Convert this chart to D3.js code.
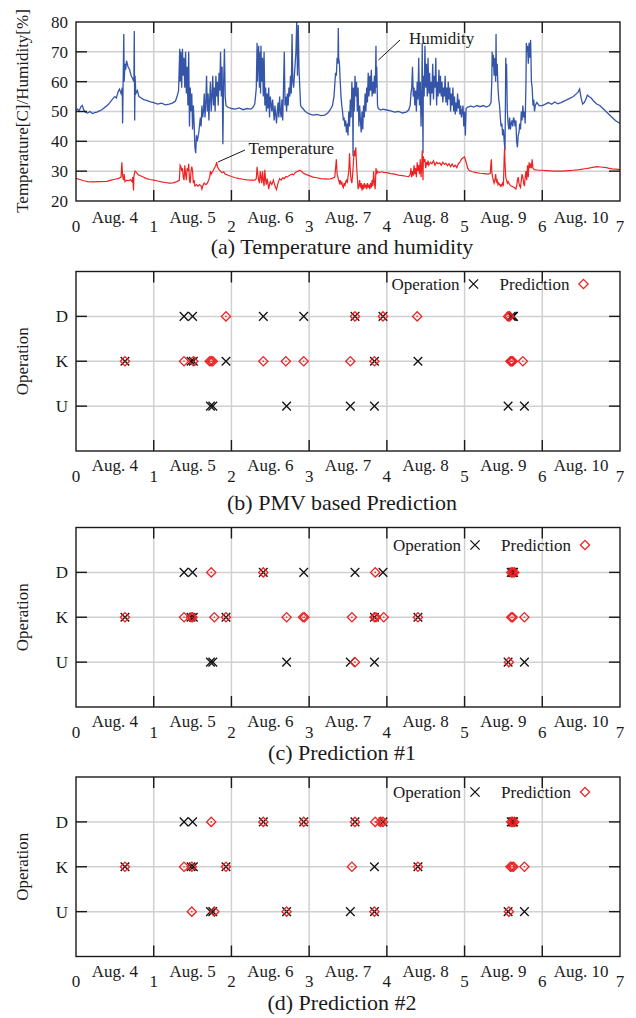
<!DOCTYPE html>
<html><head><meta charset="utf-8">
<script src="https://cdn.jsdelivr.net/npm/d3@7"></script>
<style>body{margin:0;background:#fff}text{font-family:"Liberation Serif","Times New Roman",serif;fill:#1a1a1a}</style>
</head><body><svg id="c" width="636" height="1018"></svg>
<script>
const humidity = [[0.00,50.5],[0.02,50.8],[0.04,50.2],[0.06,51.5],[0.08,52],[0.10,50.5],[0.12,49.8],[0.15,49.5],[0.18,50],[0.21,49.3],[0.24,49.6],[0.27,49.8],[0.30,50.2],[0.33,50.5],[0.36,51.2],[0.39,51.8],[0.42,52.5],[0.45,53.5],[0.48,54.5],[0.50,55],[0.52,54.5],[0.54,56.5],[0.56,57.5],[0.58,56],[0.595,58],[0.60,46],[0.605,57],[0.615,76],[0.62,60],[0.63,66],[0.64,64],[0.65,67],[0.67,65],[0.69,64],[0.71,62],[0.73,61],[0.745,60],[0.75,77],[0.755,47],[0.76,62],[0.77,56],[0.79,57],[0.81,55],[0.84,54.5],[0.87,54],[0.90,53.8],[0.93,53.5],[0.96,53.2],[1.00,53],[1.05,52.5],[1.10,52.8],[1.15,52.2],[1.20,52.5],[1.24,52.8],[1.28,53.5],[1.30,55],[1.32,57],[1.335,71],[1.34,60],[1.35,70],[1.36,58],[1.37,71],[1.38,62],[1.39,68],[1.40,58],[1.41,70],[1.42,56],[1.43,65],[1.44,52],[1.45,70],[1.46,45],[1.47,58],[1.48,50],[1.49,56],[1.50,44],[1.51,52],[1.52,46],[1.53,38],[1.54,36],[1.55,42],[1.56,40],[1.58,43],[1.60,48],[1.61,45],[1.62,52],[1.63,48],[1.64,50],[1.65,56],[1.66,48],[1.67,53],[1.68,62],[1.69,50],[1.70,56],[1.71,47],[1.72,54],[1.73,60],[1.74,50],[1.75,55],[1.76,62],[1.77,52],[1.78,58],[1.79,50],[1.80,62],[1.81,55],[1.82,60],[1.83,52],[1.84,63],[1.85,57],[1.86,70],[1.87,55],[1.88,65],[1.89,39],[1.90,60],[1.91,71],[1.92,55],[1.93,52],[1.95,51.5],[2.00,51],[2.05,50.8],[2.10,51.2],[2.15,50.6],[2.20,51],[2.25,50.8],[2.28,51.5],[2.30,52.5],[2.31,55],[2.32,58],[2.33,73],[2.335,60],[2.34,65],[2.35,72],[2.36,58],[2.37,70],[2.375,56],[2.38,72],[2.39,60],[2.40,68],[2.41,55],[2.42,70],[2.43,52],[2.44,58],[2.45,50],[2.46,56],[2.47,51],[2.48,58],[2.49,48],[2.50,55],[2.52,50],[2.53,54],[2.55,47],[2.56,52],[2.58,46],[2.59,50],[2.60,53],[2.61,48],[2.62,55],[2.63,50],[2.64,48],[2.65,54],[2.66,47],[2.67,58],[2.68,70],[2.69,52],[2.70,55],[2.71,50],[2.72,56],[2.73,52],[2.74,58],[2.75,55],[2.76,62],[2.77,56],[2.78,76],[2.79,60],[2.80,58],[2.81,62],[2.82,66],[2.83,70],[2.84,80],[2.85,62],[2.86,79],[2.87,64],[2.88,58],[2.89,52],[2.90,51.5],[2.92,51],[2.95,50],[2.98,49.5],[3.00,49.2],[3.05,48.8],[3.10,49],[3.15,48.6],[3.20,48.8],[3.24,49.5],[3.27,50.5],[3.30,52],[3.32,55],[3.34,63],[3.35,62],[3.36,68],[3.37,66],[3.375,78],[3.38,68],[3.39,66],[3.40,60],[3.41,55],[3.42,52],[3.43,50],[3.44,47],[3.45,48],[3.46,45],[3.47,47],[3.48,43],[3.49,46],[3.50,42],[3.51,50],[3.52,45],[3.53,54],[3.54,48],[3.55,60],[3.56,52],[3.565,35],[3.57,58],[3.58,50],[3.59,62],[3.60,55],[3.61,60],[3.62,50],[3.63,58],[3.64,45],[3.65,52],[3.66,47],[3.67,43],[3.68,50],[3.69,44],[3.70,52],[3.71,48],[3.72,56],[3.73,50],[3.74,58],[3.75,53],[3.76,63],[3.77,55],[3.78,62],[3.79,57],[3.80,64],[3.81,55],[3.82,60],[3.83,56],[3.84,62],[3.85,56],[3.86,72],[3.865,58],[3.87,65],[3.88,52],[3.89,51],[3.92,50.5],[3.95,50.8],[4.00,50.5],[4.05,50.2],[4.10,49.8],[4.15,50],[4.20,49.5],[4.25,49.8],[4.28,50.5],[4.30,52],[4.31,56],[4.32,58],[4.33,65],[4.34,55],[4.35,58],[4.36,52],[4.37,57],[4.38,50],[4.39,60],[4.40,54],[4.41,68],[4.42,52],[4.43,60],[4.44,45],[4.45,58],[4.455,73],[4.46,50],[4.465,36],[4.47,62],[4.48,55],[4.49,72],[4.50,58],[4.51,66],[4.52,55],[4.53,68],[4.54,56],[4.55,63],[4.56,52],[4.57,60],[4.58,56],[4.59,66],[4.60,54],[4.61,62],[4.62,58],[4.63,68],[4.64,52],[4.65,60],[4.66,55],[4.67,64],[4.68,56],[4.69,62],[4.70,55],[4.71,60],[4.72,53],[4.73,58],[4.74,55],[4.75,62],[4.76,53],[4.77,58],[4.78,52],[4.79,60],[4.80,54],[4.81,58],[4.82,50],[4.83,56],[4.84,52],[4.85,58],[4.86,50],[4.87,55],[4.88,49],[4.89,53],[4.90,50],[4.91,56],[4.92,51],[4.93,54],[4.94,49],[4.95,52],[4.96,48],[4.97,50],[4.98,52],[4.99,45],[5.00,50],[5.01,42],[5.02,51],[5.04,51.5],[5.08,51.8],[5.12,51.5],[5.16,52],[5.20,51.6],[5.24,52],[5.28,51.5],[5.32,52],[5.34,53],[5.35,60],[5.355,70],[5.36,65],[5.37,69],[5.38,62],[5.39,68],[5.40,60],[5.405,76],[5.41,62],[5.42,66],[5.43,58],[5.44,54],[5.45,52],[5.46,48],[5.47,45],[5.48,46],[5.49,42],[5.50,44],[5.51,40],[5.52,37],[5.525,50],[5.53,68],[5.535,58],[5.54,66],[5.55,50],[5.56,46],[5.57,44],[5.58,48],[5.59,44],[5.60,46],[5.61,47],[5.62,45],[5.63,48],[5.64,47],[5.65,45],[5.66,47],[5.67,40],[5.68,38],[5.69,42],[5.70,43],[5.71,46],[5.72,44],[5.73,50],[5.74,47],[5.75,52],[5.76,48],[5.77,50],[5.78,46],[5.79,60],[5.795,73],[5.80,70],[5.81,72],[5.82,66],[5.83,73],[5.84,68],[5.85,74],[5.86,60],[5.87,58],[5.88,52],[5.89,54],[5.90,50],[5.91,52],[5.93,53],[5.96,52],[6.00,52],[6.04,52.5],[6.08,53],[6.12,52.4],[6.16,53.2],[6.20,52.6],[6.24,53],[6.28,53.5],[6.32,54],[6.36,54.5],[6.40,55],[6.44,56],[6.46,56.5],[6.48,57.5],[6.50,54.5],[6.52,52.5],[6.54,53],[6.56,54],[6.58,55.5],[6.60,55],[6.63,54.5],[6.66,53.5],[6.70,52.5],[6.74,52],[6.78,51],[6.82,50],[6.86,49],[6.90,48],[6.94,47],[6.97,46.5],[7.00,46]];

const temperature = [[0.00,27.6],[0.05,27.2],[0.10,26.8],[0.15,26.5],[0.20,26.4],[0.30,26.5],[0.40,26.6],[0.45,27],[0.50,27.3],[0.55,27.6],[0.58,28],[0.59,33],[0.60,28.5],[0.61,27],[0.62,29],[0.63,26.5],[0.65,27],[0.68,26.8],[0.70,27.2],[0.72,26.5],[0.73,28],[0.74,23.5],[0.745,28],[0.75,29],[0.76,30],[0.78,29.5],[0.80,28.8],[0.85,28.2],[0.90,27.6],[0.95,27.2],[1.00,27],[1.05,26.7],[1.10,26.4],[1.15,26.2],[1.20,26],[1.25,26.1],[1.30,26.5],[1.33,27],[1.34,32],[1.35,31.5],[1.36,30],[1.37,31],[1.38,28],[1.39,27],[1.40,32],[1.41,29],[1.42,27],[1.43,31],[1.44,30],[1.45,32.5],[1.46,27],[1.47,26],[1.48,30],[1.49,31.5],[1.50,30],[1.51,26],[1.52,27],[1.53,25],[1.55,25.5],[1.57,25],[1.59,25.5],[1.61,25],[1.62,24],[1.63,25],[1.65,26],[1.67,25.5],[1.69,26],[1.70,26.5],[1.72,28],[1.73,30],[1.74,29],[1.76,30],[1.78,31],[1.80,32],[1.81,33],[1.82,31.5],[1.84,30.5],[1.86,30],[1.88,29.5],[1.90,29.8],[1.92,29],[1.95,28.7],[2.00,28.2],[2.05,27.8],[2.10,27.5],[2.15,27.3],[2.20,27.1],[2.25,27],[2.30,27],[2.32,27.5],[2.33,31.5],[2.34,29],[2.35,27],[2.36,26],[2.37,30],[2.38,28],[2.39,26],[2.40,30],[2.41,27],[2.42,25],[2.43,30.5],[2.44,27],[2.45,25.5],[2.46,27.5],[2.47,26],[2.48,24],[2.49,25.5],[2.50,26.5],[2.52,25.5],[2.54,27],[2.56,25],[2.58,23.8],[2.60,26],[2.62,27.5],[2.64,27],[2.66,27.8],[2.68,27.5],[2.70,28.2],[2.72,28],[2.74,28.5],[2.76,28.8],[2.78,29],[2.80,28.8],[2.82,29.5],[2.84,29.8],[2.86,30],[2.88,30.3],[2.90,30],[2.92,29.5],[2.95,29],[3.00,28.5],[3.05,28],[3.10,27.8],[3.15,27.5],[3.20,27.4],[3.25,27.3],[3.30,27.6],[3.33,28],[3.34,31],[3.35,34],[3.36,29],[3.37,28],[3.38,27],[3.39,26],[3.40,27],[3.41,25.5],[3.42,26.5],[3.43,25],[3.44,24.5],[3.45,26],[3.46,25],[3.47,26.5],[3.48,27],[3.49,26],[3.50,28],[3.51,30],[3.52,36],[3.53,30],[3.54,27],[3.55,26],[3.56,29],[3.57,33],[3.58,37],[3.59,35],[3.60,38],[3.61,32],[3.62,28],[3.63,24],[3.64,25],[3.65,27],[3.66,24.5],[3.67,26],[3.68,23.5],[3.69,25.5],[3.70,24],[3.71,26],[3.72,24.5],[3.73,25.5],[3.74,24],[3.75,26],[3.76,24.5],[3.77,25.5],[3.78,24],[3.79,26],[3.80,24.5],[3.81,27],[3.82,25],[3.83,30],[3.84,26],[3.85,24],[3.86,31],[3.87,29],[3.88,30],[3.90,29.5],[3.93,29.8],[3.96,29.6],[4.00,29.5],[4.05,29.2],[4.10,29],[4.15,28.7],[4.20,28.5],[4.25,28.3],[4.28,28.2],[4.30,28.8],[4.31,31],[4.32,28],[4.33,30],[4.34,28.5],[4.35,32],[4.36,29],[4.37,31],[4.38,28],[4.39,33],[4.40,30],[4.41,32],[4.42,29],[4.43,34],[4.44,28],[4.45,33],[4.455,37],[4.46,32],[4.465,27],[4.47,35],[4.48,33],[4.49,34],[4.50,31],[4.51,33],[4.52,32],[4.53,33.5],[4.54,32],[4.56,33],[4.58,32.5],[4.60,33.5],[4.62,32],[4.64,33],[4.66,32.5],[4.68,32.8],[4.70,32],[4.72,33],[4.74,32.3],[4.76,32.6],[4.78,31.8],[4.80,32.5],[4.82,31.5],[4.84,32.4],[4.86,31.5],[4.88,32],[4.90,31.2],[4.92,32.5],[4.94,33],[4.96,34],[4.98,34.5],[5.00,34.8],[5.02,33],[5.04,31],[5.06,30.2],[5.10,29.8],[5.15,29.5],[5.20,29.3],[5.25,29.2],[5.30,29],[5.33,29.2],[5.34,33],[5.345,34],[5.35,30],[5.36,28],[5.37,27],[5.38,26],[5.39,27],[5.40,29],[5.41,26.5],[5.42,27],[5.43,25.5],[5.44,26],[5.45,25.5],[5.46,25],[5.47,25.5],[5.48,25],[5.49,26],[5.50,25.5],[5.505,30],[5.51,35],[5.515,38],[5.52,33],[5.53,28],[5.54,27],[5.55,26],[5.56,26.5],[5.58,25.5],[5.60,25],[5.62,24.8],[5.64,24.5],[5.66,24],[5.67,25],[5.68,27],[5.69,28],[5.70,26],[5.71,25],[5.72,24.5],[5.73,27],[5.74,29],[5.75,28],[5.76,26],[5.77,25],[5.78,28],[5.79,30],[5.80,27],[5.81,32],[5.82,28],[5.83,33],[5.84,31],[5.85,32.5],[5.86,31],[5.87,34],[5.88,31],[5.90,30.5],[5.93,30.4],[5.96,30.3],[6.00,30.3],[6.05,30.2],[6.10,30.1],[6.15,30],[6.20,30],[6.25,30],[6.30,30.1],[6.35,30.2],[6.40,30.3],[6.45,30.4],[6.50,30.6],[6.55,30.8],[6.60,31],[6.65,31.3],[6.70,31.5],[6.75,31.4],[6.80,31.3],[6.85,31],[6.90,30.8],[6.95,30.7],[7.00,30.5]];

const dayTicks = [0,1,2,3,4,5,6,7];
const dayLabels = ["Aug. 4","Aug. 5","Aug. 6","Aug. 7","Aug. 8","Aug. 9","Aug. 10"];
const valueTicks = [20,30,40,50,60,70,80];
const opLevels = ["U","K","D"];

const operation = [[1.39,"D"],[1.50,"D"],[2.41,"D"],[2.93,"D"],[3.59,"D"],[3.95,"D"],[5.60,"D"],[5.62,"D"],[5.63,"D"],
  [0.63,"K"],[1.48,"K"],[1.51,"K"],[1.93,"K"],[3.84,"K"],[4.40,"K"],
  [1.73,"U"],[1.76,"U"],[2.71,"U"],[3.53,"U"],[3.84,"U"],[5.56,"U"],[5.77,"U"]];

const predictionPMV = [[1.93,"D"],[3.59,"D"],[3.95,"D"],[4.39,"D"],[5.56,"D"],[5.58,"D"],
  [0.63,"K"],[1.39,"K"],[1.51,"K"],[1.72,"K"],[1.74,"K"],[1.76,"K"],[2.41,"K"],[2.70,"K"],[2.93,"K"],[3.53,"K"],[3.84,"K"],[5.59,"K"],[5.60,"K"],[5.61,"K"],[5.62,"K"],[5.75,"K"]];

const prediction1 = [[1.74,"D"],[2.41,"D"],[3.85,"D"],[5.60,"D"],[5.62,"D"],[5.64,"D"],
  [0.63,"K"],[1.39,"K"],[1.48,"K"],[1.50,"K"],[1.78,"K"],[1.93,"K"],[2.71,"K"],[2.92,"K"],[2.94,"K"],[3.55,"K"],[3.84,"K"],[3.86,"K"],[3.96,"K"],[4.40,"K"],[5.60,"K"],[5.62,"K"],[5.77,"K"],
  [3.59,"U"],[5.57,"U"]];

const prediction2 = [[1.74,"D"],[2.41,"D"],[2.93,"D"],[3.59,"D"],[3.85,"D"],[3.92,"D"],[3.95,"D"],[5.60,"D"],[5.62,"D"],[5.64,"D"],
  [0.63,"K"],[1.39,"K"],[1.49,"K"],[1.93,"K"],[3.55,"K"],[4.40,"K"],[5.59,"K"],[5.61,"K"],[5.63,"K"],[5.77,"K"],
  [1.49,"U"],[1.78,"U"],[2.71,"U"],[3.84,"U"],[5.57,"U"]];

const titles = ["(a) Temperature and humidity","(b) PMV based Prediction","(c) Prediction #1","(d) Prediction #2"];

const svg = d3.select("#c");
const L = 76, R = 620;
const x = d3.scaleLinear().domain([0,7]).range([L,R]);
const GRID = "#d0d0d0", INK = "#1a1a1a", RED = "#ee2222", BLUE = "#3556a8";
const TL = 11;

function frame(top, bottom, yScale, yTickVals, yTickText, augDy, numDy, titleY) {
  const g = svg.append("g");
  // grids
  g.selectAll(".gx").data(dayTicks.slice(1,-1)).join("line")
    .attr("x1",d=>x(d)).attr("x2",d=>x(d)).attr("y1",top).attr("y2",bottom)
    .attr("stroke",GRID).attr("stroke-width",1.5);
  g.selectAll(".gy").data(yTickVals.filter(v=>yScale(v)>top+1 && yScale(v)<bottom-1)).join("line")
    .attr("x1",L).attr("x2",R).attr("y1",d=>yScale(d)).attr("y2",d=>yScale(d))
    .attr("stroke",GRID).attr("stroke-width",1.5);
  return g;
}
function frameTop(g, top, bottom, yScale, yTickVals, yTickText, augDy, numDy, titleY) {
  g.append("rect").attr("x",L).attr("y",top).attr("width",R-L).attr("height",bottom-top)
    .attr("fill","none").attr("stroke",INK).attr("stroke-width",1.4);
  const inner = dayTicks.slice(1,-1);
  g.selectAll(null).data(inner).join("line").attr("x1",d=>x(d)).attr("x2",d=>x(d))
    .attr("y1",bottom).attr("y2",bottom-TL).attr("stroke",INK).attr("stroke-width",1.4);
  g.selectAll(null).data(inner).join("line").attr("x1",d=>x(d)).attr("x2",d=>x(d))
    .attr("y1",top).attr("y2",top+TL).attr("stroke",INK).attr("stroke-width",1.4);
  const yin = yTickVals.filter(v=>yScale(v)>top+1 && yScale(v)<bottom-1);
  g.selectAll(null).data(yin).join("line").attr("x1",L).attr("x2",L+TL)
    .attr("y1",d=>yScale(d)).attr("y2",d=>yScale(d)).attr("stroke",INK).attr("stroke-width",1.4);
  g.selectAll(null).data(yin).join("line").attr("x1",R).attr("x2",R-TL)
    .attr("y1",d=>yScale(d)).attr("y2",d=>yScale(d)).attr("stroke",INK).attr("stroke-width",1.4);
  g.selectAll(null).data(yTickVals).join("text").attr("x",L-8).attr("y",d=>yScale(d)).attr("dy","0.35em")
    .attr("text-anchor","end").attr("font-size",17).text((d,i)=>yTickText[i]);
  g.selectAll(null).data(dayTicks).join("text").attr("x",d=>x(d)).attr("y",bottom+numDy)
    .attr("text-anchor","middle").attr("font-size",17).text(d=>d);
  g.selectAll(null).data(dayLabels).join("text").attr("x",(d,i)=>x(i+0.5)).attr("y",bottom+augDy)
    .attr("text-anchor","middle").attr("font-size",17).text(d=>d);
}

// ---- Panel (a)
const ya = d3.scaleLinear().domain([20,80]).range([201,22]);
const ga = frame(22,201,ya,valueTicks);
const line = d3.line().x(d=>x(d[0])).y(d=>ya(d[1]));
svg.append("defs").append("clipPath").attr("id","clipA").append("rect").attr("x",L).attr("y",22).attr("width",R-L).attr("height",179);
ga.append("path").datum(humidity).attr("d",line).attr("fill","none").attr("stroke",BLUE).attr("stroke-width",1.3).attr("clip-path","url(#clipA)");
ga.append("path").datum(temperature).attr("d",line).attr("fill","none").attr("stroke",RED).attr("stroke-width",1.2).attr("clip-path","url(#clipA)");
frameTop(ga,22,201,ya,valueTicks,valueTicks.map(String),22,31);
ga.append("text").attr("transform","translate(28,111) rotate(-90)").attr("text-anchor","middle").attr("font-size",17).text("Temperature[C]/Humidity[%]");
ga.append("text").attr("x",409).attr("y",44).attr("font-size",17).text("Humidity");
ga.append("line").attr("x1",400).attr("y1",40).attr("x2",378.5).attr("y2",60).attr("stroke",INK).attr("stroke-width",1);
ga.append("text").attr("x",248.5).attr("y",153.5).attr("font-size",17).text("Temperature");
ga.append("line").attr("x1",245).attr("y1",150).attr("x2",218).attr("y2",162).attr("stroke",INK).attr("stroke-width",1);
ga.append("text").attr("x",342).attr("y",254).attr("text-anchor","middle").attr("font-size",22).text(titles[0]);

// ---- scatter panels
function crossPath(s){return `M${-s},${-s}L${s},${s}M${-s},${s}L${s},${-s}`;}
function diamondPath(s){return `M0,${-s}L${s},0L0,${s}L${-s},0Z`;}
const catVal = {U:1,K:2,D:3};

function scatterPanel(top, preds, title, titleY, legDy, legShift) {
  const bottom = top + 179.5;
  const y = d3.scaleLinear().domain([0,4]).range([bottom, top]);
  const g = frame(top,bottom,y,[1,2,3]);
  g.selectAll(null).data(operation).join("path")
    .attr("transform",d=>`translate(${x(d[0])},${y(catVal[d[1]])})`)
    .attr("d",crossPath(4.3)).attr("fill","none").attr("stroke","#111").attr("stroke-width",1.3);
  const pg = g.selectAll(null).data(preds).join("g")
    .attr("transform",d=>`translate(${x(d[0])},${y(catVal[d[1]])})`);
  pg.append("path").attr("d",diamondPath(4.6)).attr("fill","none").attr("stroke",RED).attr("stroke-width",1.3);
  pg.append("circle").attr("r",0.8).attr("fill",RED);
  frameTop(g,top,bottom,y,[1,2,3],opLevels,20,30.5);
  g.append("text").attr("transform",`translate(28,${(top+bottom)/2}) rotate(-90)`).attr("text-anchor","middle").attr("font-size",17).text("Operation");
  const ly = top + legDy;
  g.append("text").attr("x",461+legShift).attr("y",ly).attr("dy","0.35em").attr("text-anchor","end").attr("font-size",17).text("Operation");
  g.append("path").attr("transform",`translate(${475+legShift},${ly})`).attr("d",crossPath(4.6)).attr("fill","none").attr("stroke","#111").attr("stroke-width",1.3);
  g.append("text").attr("x",571+legShift).attr("y",ly).attr("dy","0.35em").attr("text-anchor","end").attr("font-size",17).text("Prediction");
  g.append("path").attr("transform",`translate(${585+legShift},${ly})`).attr("d",diamondPath(4.6)).attr("fill","none").attr("stroke",RED).attr("stroke-width",1.3);
  g.append("text").attr("x",342).attr("y",titleY).attr("text-anchor","middle").attr("font-size",22).text(title);
}
scatterPanel(271.5, predictionPMV, titles[1], 510, 12.5, -1.5);
scatterPanel(527.5, prediction1, titles[2], 760, 17.5, 0);
scatterPanel(777, prediction2, titles[3], 1010, 15, 0);
</script></body></html>
